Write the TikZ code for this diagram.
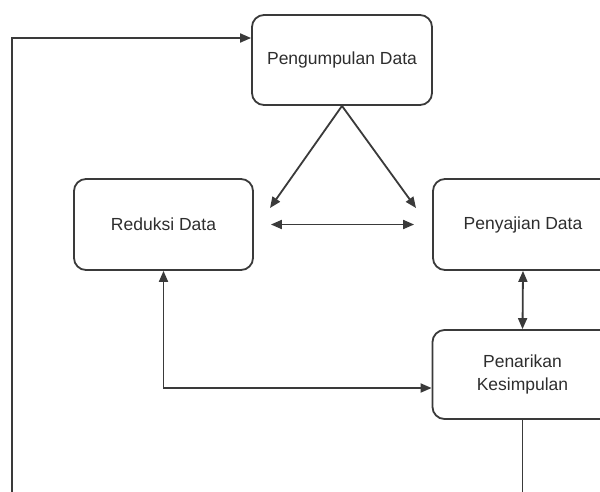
\documentclass[tikz,border=0pt]{standalone}
\usepackage{fontspec}
\setmainfont{Liberation Sans}
\usetikzlibrary{arrows.meta}
\definecolor{ln}{HTML}{3A3A3A}
\definecolor{tx}{HTML}{2E2E2E}
\tikzset{
  box/.style={draw=ln, line width=1.8pt, rounded corners=12pt, fill=white,
    minimum width=180pt, minimum height=90pt, align=center, text=tx,
    font=\fontsize{17.5}{23}\selectfont, inner sep=0pt},
  conn/.style={draw=ln, line width=1.8pt, >={Triangle[length=11pt,width=9pt]}}
}
\begin{document}
\begin{tikzpicture}[x=1pt,y=-1pt]
\useasboundingbox (0,0) rectangle (600,491);
\clip (0,0) rectangle (600,491);
\fill[white] (0,0) rectangle (600,491);
\node[box] (peng) at (342,60) {Pengumpulan Data};
\node[box, minimum width=179pt, minimum height=91pt] (red) at (163.5,224.5) {Reduksi Data};
\node[box, minimum height=91pt] (saj) at (523,224.5) {Penyajian Data};
\node[box, minimum height=89pt] (tar) at (522.5,374.5) {Penarikan\\Kesimpulan};
\coordinate (a1) at (270,208);
\coordinate (a2) at (416,208);
\coordinate (j) at (163.5,388);
\coordinate (b1) at (522.5,530);
\coordinate (b2) at (12,530);
\coordinate (b3) at (12,38);
\draw[conn,->] (peng.south) -- (a1);
\draw[conn,->] (peng.south) -- (a2);
\draw[conn,<->,shorten <=17pt,shorten >=18pt] (red) -- (saj);
\draw[conn,<->] (saj.south) -- (tar.north);
\draw[conn,<->] (red.south) -- (j) -- (j -| tar.west);
\draw[conn,->] (tar.south) -- (b1) -- (b2) -- (b3) -- (b3 -| peng.west);
\end{tikzpicture}
\end{document}
